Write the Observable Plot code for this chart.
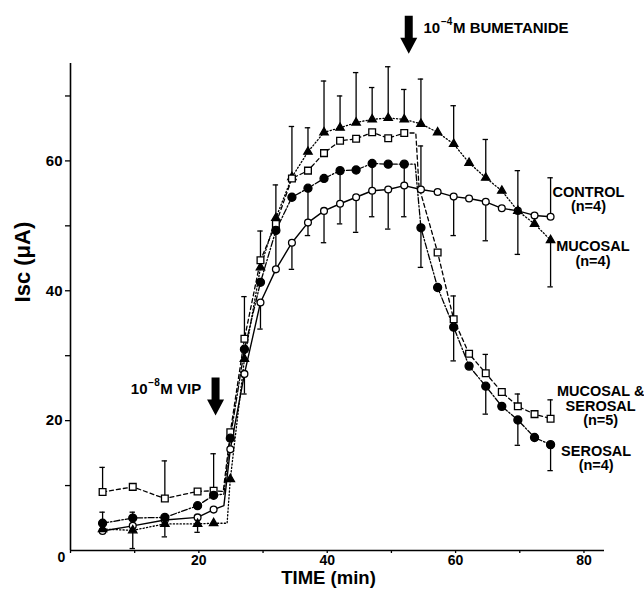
<!DOCTYPE html>
<html><head><meta charset="utf-8">
<script src="https://cdn.jsdelivr.net/npm/d3@7"></script>
<script src="https://cdn.jsdelivr.net/npm/@observablehq/plot@0.6"></script>
<style>
html,body{margin:0;padding:0;background:#fff;}
#chart{width:644px;height:593px;}
</style>
</head><body><div id="chart"></div>
<script>
// ---- data ----
const times = [5, 9.7, 14.7, 19.8, 22.3, 24.9, 27.1, 29.6, 32, 34.5, 37, 39.5, 42, 44.5, 47, 49.5, 52, 54.6, 57.2, 59.7, 62.1, 64.7, 67.2, 69.7, 72.3, 74.8];

const control        = [3.0, 3.8, 4.7, 5.1, 6.3, 15.6, 27.2, 38.2, 43.3, 47.4, 50.5, 52.3, 53.4, 54.4, 55.4, 55.6, 56.2, 55.6, 55.2, 54.5, 54.2, 53.7, 52.7, 52.3, 51.6, 51.4];
const mucosal        = [3.3, 3.1, 4.1, 4.1, 4.2, 11.0, 29.5, 43.6, 51.2, 57.5, 61.4, 64.4, 65.1, 65.9, 66.4, 66.6, 66.4, 65.7, 64.4, 62.6, 59.7, 57.4, 55.4, 52.3, 50.3, 47.8];
const mucosalSerosal = [9.0, 9.8, 8.0, 9.1, 9.2, 18.2, 32.6, 44.7, 50.3, 57.3, 58.5, 61.2, 63.1, 63.4, 64.4, 63.5, 64.3, null, 45.9, 35.6, 30.3, 27.3, 24.4, 22.2, 21.0, 20.3];
const serosal        = [4.2, 5.0, 5.1, 6.9, 8.5, 17.3, 31.0, 41.3, 49.3, 54.4, 55.8, 57.3, 58.5, 58.6, 59.6, 59.5, 59.5, 49.7, 40.5, 34.4, 28.4, 25.3, 22.2, 20.1, 17.4, 16.3];

// error bar end values (null = no bar drawn)
const controlErr        = [null, null, null, null, null, null, 24.1, 34.1, 56.3, 43.3, null, 47.4, null, 49.0, null, 49.5, null, 62.3, null, 48.5, null, 47.7, null, 45.6, null, 57.4];
const mucosalErr        = [null, 0.3, 2.1, 2.8, null, null, null, null, null, 65.3, 65.1, 72.3, 70.0, 73.6, 71.3, 74.5, 71.0, 72.6, null, 68.5, null, 63.3, null, 58.5, null, 40.6];
const mucosalSerosalErr = [12.8, null, 13.8, null, 14.9, null, 39.1, 49.2, null, null, null, null, null, null, null, null, null, null, null, 39.2, null, 30.2, null, 24.1, null, 23.2];
const serosalErr        = [5.9, 5.9, null, null, null, null, null, null, null, null, 48.5, null, 50.3, null, 51.4, null, 51.4, 43.6, null, 29.2, null, 21.0, null, 16.2, null, 12.3];

// unmarked bends of the connecting lines
const controlBendT = [23.9], controlBendV = [6.9];
const mucosalBendT = [24.4], mucosalBendV = [4.2];
const mucosalSerosalBendT = [23.8, 53.8, 54.3], mucosalSerosalBendV = [9.1, 64.3, 56.0];
const serosalBendT = [23.9, 53.7], serosalBendV = [8.7, 59.5];

// labels
const seriesLabels = ["CONTROL\n(n=4)", "MUCOSAL\n(n=4)", "MUCOSAL &\nSEROSAL\n(n=5)", "SEROSAL\n(n=4)"];
const seriesLabelT = [80.7, 81.4, 82.6, 81.9];
const seriesLabelV = [54.1, 45.7, 22.2, 14.2];

const xTickValues = [0, 10, 20, 30, 40, 50, 60, 70, 80];
const yTickValues = [10, 20, 30, 40, 50, 60, 70];

// arrow annotations: base "10", superscript exponent, rest
const annBase = ["10", "10"];
const annExp = ["−8", "−4"];
const annRest = ["M VIP", "M BUMETANIDE"];
const annT = [9.4, 55.0];
const annV = [24.9, 80.5];
const arrowT = [22.6, 52.7];
const arrowV = [20.8, 76.5];

// ---- build tables ----
function rows(vals) { return times.map((t, i) => ({t, v: vals[i]})).filter(d => d.v != null); }
function lineRows(vals, bt, bv) {
  return rows(vals).concat(bt.map((t, i) => ({t, v: bv[i]}))).sort((a, b) => a.t - b.t);
}
function errRows(vals, errs) {
  return times.map((t, i) => ({t, v: vals[i], e: errs[i]})).filter(d => d.e != null && d.v != null);
}

const S = [
  {vals: control, err: controlErr, bt: controlBendT, bv: controlBendV, dash: null, sw: 1.4,
   sym: "circle", fill: "white", r: 3.4},
  {vals: mucosal, err: mucosalErr, bt: mucosalBendT, bv: mucosalBendV, dash: "1.2,2.2", sw: 1.3,
   sym: "triangle", fill: "black", r: 3.1},
  {vals: mucosalSerosal, err: mucosalSerosalErr, bt: mucosalSerosalBendT, bv: mucosalSerosalBendV, dash: "4,3", sw: 1.3,
   sym: "square", fill: "white", r: 3.8},
  {vals: serosal, err: serosalErr, bt: serosalBendT, bv: serosalBendV, dash: "6,2,1.5,2", sw: 1.3,
   sym: "circle", fill: "black", r: 4.0}
];

const capHalf = 0.42;
const marks = [];

// axis frame
marks.push(Plot.ruleX([0], {y1: 0, y2: 75, stroke: "black", strokeWidth: 1.6}));
marks.push(Plot.ruleY([0], {x1: 0, x2: 83.2, stroke: "black", strokeWidth: 1.6}));
marks.push(Plot.axisY({ticks: yTickValues, tickSize: 5, tickPadding: 3, strokeWidth: 1.3,
  tickFormat: d => d % 20 === 0 ? String(d) : "", fontSize: 15, fontWeight: "bold", label: null}));
marks.push(Plot.axisX({ticks: xTickValues, tickSize: 3, tickPadding: 2, strokeWidth: 1.3,
  tickFormat: d => (d % 20 === 0 && d > 0) ? String(d) : "", fontSize: 14, fontWeight: "bold", label: null}));
marks.push(Plot.text(["0"], {x: 0, frameAnchor: "bottom", dy: 11, dx: -9, fontSize: 14, fontWeight: "bold"}));

// axis titles
marks.push(Plot.text(["TIME (min)"], {x: 40.2, frameAnchor: "bottom", dy: 33.5, fontSize: 18.5, fontWeight: "bold"}));
marks.push(Plot.text(["Isc (μA)"], {y: 38.2, frameAnchor: "left", dx: -48, rotate: -90, fontSize: 22, fontWeight: "bold"}));

// lines
for (const s of S) {
  marks.push(Plot.line(lineRows(s.vals, s.bt, s.bv), {x: "t", y: "v", stroke: "black", strokeWidth: s.sw,
    strokeDasharray: s.dash || undefined}));
}
// error bars
for (const s of S) {
  const er = errRows(s.vals, s.err);
  marks.push(Plot.ruleX(er, {x: "t", y1: "v", y2: "e", stroke: "black", strokeWidth: 1.3}));
  marks.push(Plot.ruleY(er, {y: "e", x1: d => d.t - capHalf, x2: d => d.t + capHalf, stroke: "black", strokeWidth: 1.3}));
}
// markers
for (const s of S) {
  marks.push(Plot.dot(rows(s.vals), {x: "t", y: "v", symbol: s.sym, r: s.r, fill: s.fill, stroke: "black", strokeWidth: 1.3}));
}

// arrows (custom symbol: shape drawn with its tip at the data point)
const arrowSymbol = {
  draw(ctx) {
    ctx.moveTo(-4, -38); ctx.lineTo(4, -38); ctx.lineTo(4, -16); ctx.lineTo(8.5, -16);
    ctx.lineTo(0, 0); ctx.lineTo(-8.5, -16); ctx.lineTo(-4, -16); ctx.closePath();
  }
};
marks.push(Plot.dot(arrowT.map((t, i) => ({t, v: arrowV[i]})), {x: "t", y: "v", symbol: arrowSymbol, r: 5, fill: "black", stroke: "none"}));
const ann = annBase.map((b, i) => ({b, e: annExp[i], r: annRest[i], t: annT[i], v: annV[i]}));
marks.push(Plot.text(ann, {x: "t", y: "v", text: "b", textAnchor: "start", fontSize: 15, fontWeight: "bold"}));
marks.push(Plot.text(ann, {x: "t", y: "v", text: "e", textAnchor: "start", dx: 17.5, dy: -6, fontSize: 10, fontWeight: "bold"}));
marks.push(Plot.text(ann, {x: "t", y: "v", text: "r", textAnchor: "start", dx: 29.5, fontSize: 15, fontWeight: "bold"}));

// series labels
marks.push(Plot.text(seriesLabels.map((s, i) => ({s, t: seriesLabelT[i], v: seriesLabelV[i]})),
  {x: "t", y: "v", text: "s", textAnchor: "middle", lineAnchor: "middle", lineHeight: 1.0, fontSize: 14.5, fontWeight: "bold"}));

const chart = Plot.plot({
  width: 644, height: 593,
  marginLeft: 70, marginRight: 40, marginTop: 63, marginBottom: 43,
  x: {domain: [0, 83.2]},
  y: {domain: [0, 75]},
  style: {fontFamily: "'Liberation Sans', Arial, sans-serif", background: "white", color: "black", overflow: "visible"},
  marks
});
document.getElementById("chart").appendChild(chart);
</script>
</body></html>
